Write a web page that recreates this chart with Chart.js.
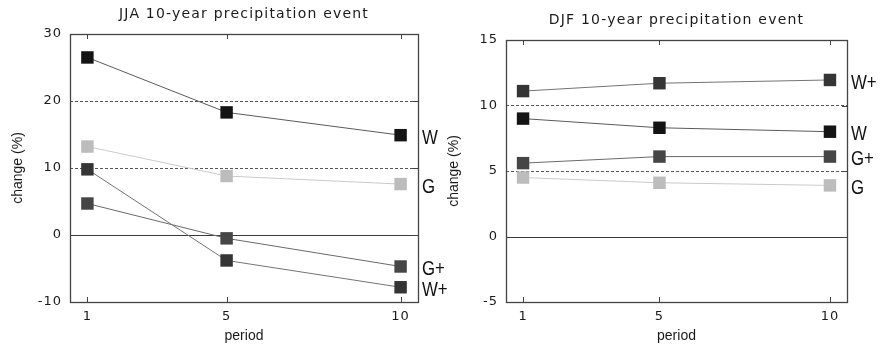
<!DOCTYPE html>
<html>
<head>
<meta charset="utf-8">
<script src="https://cdn.jsdelivr.net/npm/chart.js@4.4.1/dist/chart.umd.min.js"></script>
<style>
  html, body { margin: 0; padding: 0; background: #fff; }
  #wrap { position: relative; width: 885px; height: 345px; overflow: hidden; }
  #wrap canvas { position: absolute; top: 0; }
  #jja { left: 0; }
  #djf { left: 440px; }
</style>
</head>
<body>
<div id="wrap">
  <canvas id="jja" width="460" height="345"></canvas>
  <canvas id="djf" width="445" height="345"></canvas>
</div>
<script>
  // --- data ---
  const periods = [1, 5, 10];
  const seriesNames = ['W', 'G', 'W+', 'G+'];

  const jjaW     = [26.5, 18.3, 14.9];
  const jjaG     = [13.2, 8.8, 7.6];
  const jjaWplus = [9.8, -3.8, -7.8];
  const jjaGplus = [4.7, -0.5, -4.7];
  const jjaTicks = [-10, 0, 10, 20, 30];

  const djfW     = [9.0, 8.3, 8.0];
  const djfG     = [4.5, 4.1, 3.9];
  const djfWplus = [11.1, 11.7, 11.95];
  const djfGplus = [5.6, 6.1, 6.1];
  const djfTicks = [-5, 0, 5, 10, 15];

  // marker fill, line colour per series
  const markColors = { 'W': '#141414', 'G': '#bcbcbc', 'W+': '#353535', 'G+': '#464646' };
  const lineColors = { 'W': '#5a5a5a', 'G': '#cacaca', 'W+': '#747474', 'G+': '#6a6a6a' };

  const toPts = vals => vals.map((v, i) => ({ x: periods[i], y: v }));

  const decor = {
    id: 'decor',
    beforeDraw(chart) {
      // tick labels in the picture are drawn a bit wide
      chart.ctx.letterSpacing = '1px';
    },
    beforeDatasetsDraw(chart) {
      const { ctx, chartArea: a, scales: { x, y } } = chart;
      ctx.save();
      // zero line
      const y0 = Math.round(y.getPixelForValue(0)) + 0.5;
      ctx.strokeStyle = '#3a3a3a'; ctx.lineWidth = 1.2;
      ctx.beginPath(); ctx.moveTo(a.left, y0); ctx.lineTo(a.right, y0); ctx.stroke();
      // frame
      ctx.strokeStyle = '#444'; ctx.lineWidth = 1.3;
      ctx.strokeRect(Math.round(a.left) + 0.5, Math.round(a.top) + 0.5, Math.round(a.width), Math.round(a.height));
      // inward tick marks
      ctx.lineWidth = 1;
      periods.forEach(p => {
        const px = Math.round(x.getPixelForValue(p)) + 0.5;
        ctx.beginPath();
        ctx.moveTo(px, a.bottom); ctx.lineTo(px, a.bottom - 5);
        ctx.moveTo(px, a.top); ctx.lineTo(px, a.top + 5);
        ctx.stroke();
      });
      y.ticks.forEach(t => {
        const py = Math.round(y.getPixelForValue(t.value)) + 0.5;
        ctx.beginPath();
        ctx.moveTo(a.right, py); ctx.lineTo(a.right - 5, py);
        ctx.stroke();
      });
      ctx.restore();
    },
    afterDatasetsDraw(chart, args, opts) {
      const { ctx, chartArea: a } = chart;
      const cx = (a.left + a.right) / 2, cy = (a.top + a.bottom) / 2;
      ctx.save();
      ctx.fillStyle = '#1a1a1a';
      ctx.textAlign = 'center'; ctx.textBaseline = 'middle';
      // title over the plot area
      ctx.letterSpacing = '1.2px';
      ctx.font = '14px "DejaVu Sans"';
      ctx.fillText(opts.title, cx, a.top - 20);
      // axis titles
      ctx.letterSpacing = '0px';
      ctx.font = '14px "Liberation Sans"';
      ctx.fillText('period', cx, 336);
      ctx.save();
      ctx.translate(a.left - 52, cy);
      ctx.rotate(-Math.PI / 2);
      ctx.fillText('change (%)', 0, 0);
      ctx.restore();
      // series labels at the right end of each line (narrow face)
      ctx.font = '21px "Liberation Sans", sans-serif';
      ctx.textAlign = 'left'; ctx.fillStyle = '#111';
      chart.data.datasets.forEach((ds, i) => {
        const pts = chart.getDatasetMeta(i).data;
        const last = pts[pts.length - 1];
        ctx.save();
        ctx.translate(a.right + 4, last.y + 3);
        ctx.scale(0.8, 1);
        ctx.fillText(ds.label, 0, 0);
        ctx.restore();
      });
      ctx.restore();
    }
  };

  function makeChart(id, title, series, ticks, padRight, padTop, yWidth) {
    const datasets = seriesNames.map(name => ({
      label: name,
      data: toPts(series[name]),
      borderColor: lineColors[name],
      borderWidth: 1,
      pointStyle: 'rect',
      pointRadius: 8.8,
      pointBackgroundColor: markColors[name],
      pointBorderColor: markColors[name],
      pointBorderWidth: 0,
      tension: 0
    }));
    return new Chart(document.getElementById(id), {
      type: 'line',
      data: { datasets },
      options: {
        responsive: false,
        animation: false,
        layout: { padding: { left: 0, right: padRight, top: padTop, bottom: 0 } },
        plugins: {
          legend: { display: false },
          tooltip: { enabled: false },
          decor: { title }
        },
        scales: {
          x: {
            type: 'linear', min: 0.5, max: 10.5,
            afterBuildTicks: s => { s.ticks = periods.map(v => ({ value: v })); },
            afterFit: s => { s.height = 43; },
            grid: { display: false, drawTicks: false },
            border: { display: false },
            ticks: { padding: 7, color: '#1a1a1a', font: { family: 'DejaVu Sans', size: 13 } }
          },
          y: {
            type: 'linear', min: ticks[0], max: ticks[ticks.length - 1],
            afterBuildTicks: s => { s.ticks = ticks.map(v => ({ value: v })); },
            afterFit: s => { s.width = yWidth; },
            grid: {
              drawTicks: false,
              color: c => (c.tick && (c.tick.value === 0 || c.tick.value === ticks[0] || c.tick.value === ticks[ticks.length - 1])) ? 'rgba(0,0,0,0)' : '#555',
              lineWidth: 1
            },
            border: { display: false, dash: [3, 2] },
            ticks: { padding: 8, color: '#1a1a1a', font: { family: 'DejaVu Sans', size: 13 } }
          }
        }
      },
      plugins: [decor]
    });
  }

  makeChart('jja', 'JJA 10-year precipitation event',
    { 'W': jjaW, 'G': jjaG, 'W+': jjaWplus, 'G+': jjaGplus }, jjaTicks, 42, 34, 70);
  makeChart('djf', 'DJF 10-year precipitation event',
    { 'W': djfW, 'G': djfG, 'W+': djfWplus, 'G+': djfGplus }, djfTicks, 38, 40, 66);
</script>
</body>
</html>
